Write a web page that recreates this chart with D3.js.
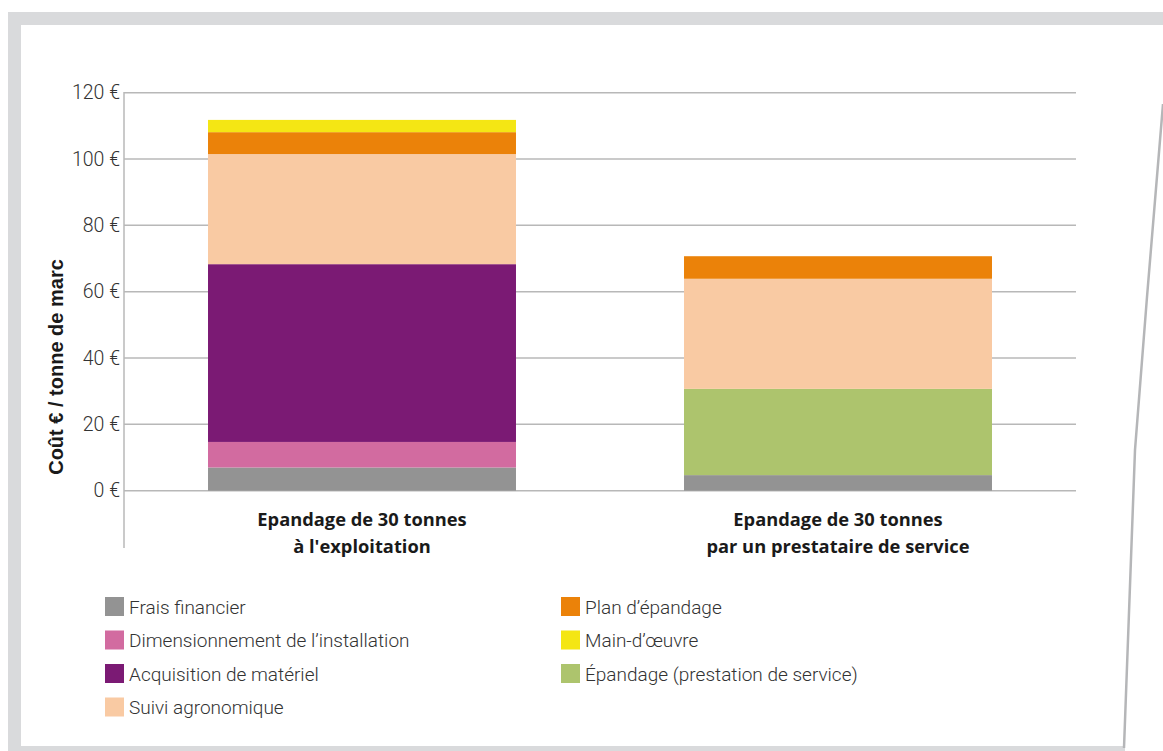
<!DOCTYPE html>
<html>
<head>
<meta charset="utf-8">
<script src="https://cdn.jsdelivr.net/npm/d3@7"></script>
<style>
  html, body { margin: 0; padding: 0; background: #fff; }
  svg { display: block; }
</style>
</head>
<body>
<svg id="chart" width="1163" height="751"></svg>
<script>
// Coût d'épandage par tonne de marc, selon le mode d'épandage
const categories = [
  ["Epandage de 30 tonnes", "à l'exploitation"],
  ["Epandage de 30 tonnes", "par un prestataire de service"]
];
const seriesNames = [
  "Frais financier",
  "Dimensionnement de l’installation",
  "Acquisition de matériel",
  "Suivi agronomique",
  "Plan d’épandage",
  "Main-d’œuvre",
  "Épandage (prestation de service)"
];
const seriesColors = ["#939393", "#d26ba0", "#7b1a74", "#f9caa3", "#eb8209", "#f4e614", "#adc46d"];
// Valeurs en € / tonne, dans l'ordre d'empilement (bas vers haut)
const exploitationValues = [7.0, 7.7, 53.6, 33.2, 6.6, 3.7, 0];
const prestataireValues  = [4.7, 0, 0, 33.2, 6.8, 0, 26.0];
const stackOrder = [0, 1, 2, 6, 3, 4, 5];
const yTicks = [0, 20, 40, 60, 80, 100, 120];
const yTitle = "Coût € / tonne de marc";

const svg = d3.select("#chart");

// Cadre de la page
const frame = svg.append("g");
frame.append("rect").attr("x", 8).attr("y", 12).attr("width", 1155).attr("height", 13).attr("fill", "#d9dadc");
frame.append("rect").attr("x", 8).attr("y", 12).attr("width", 13).attr("height", 739).attr("fill", "#d9dadc");
frame.append("rect").attr("x", 8).attr("y", 746).attr("width", 1117).attr("height", 5).attr("fill", "#d9dadc");
frame.append("path")
  .attr("d", "M1163,104 L1147,297 L1135,450 L1124,748")
  .attr("fill", "none").attr("stroke", "#b5b6b8").attr("stroke-width", 2.5);

const x = d3.scaleBand().domain([0, 1]).range([124, 1076]).paddingInner(0.353).paddingOuter(0.1765);
const y = d3.scaleLinear().domain([0, 120]).range([490.7, 92.7]);

// Grille horizontale
svg.append("g").selectAll("line").data(yTicks).join("line")
  .attr("x1", 124).attr("x2", 1076)
  .attr("y1", d => y(d)).attr("y2", d => y(d))
  .attr("stroke", "#b8b8b8").attr("stroke-width", 1.5);

// Axe vertical
const yAxis = d3.axisLeft(y).tickValues(yTicks).tickSize(0).tickPadding(4).tickFormat(d => d + " €");
const gy = svg.append("g").attr("transform", "translate(124,0)").call(yAxis);
gy.select(".domain").remove();
gy.selectAll("text")
  .attr("font-family", "Roboto, sans-serif").attr("font-weight", 300)
  .attr("font-size", 19.5).attr("fill", "#333");
svg.append("line").attr("x1", 124).attr("x2", 124).attr("y1", 92).attr("y2", 548)
  .attr("stroke", "#b8b8b8").attr("stroke-width", 1.5);

// Barres empilées
const rows = [exploitationValues, prestataireValues];
rows.forEach((vals, i) => {
  let acc = 0;
  const segs = [];
  stackOrder.forEach(s => {
    if (vals[s] > 0) { segs.push({ s, y0: acc, y1: acc + vals[s] }); acc += vals[s]; }
  });
  svg.append("g").selectAll("rect").data(segs).join("rect")
    .attr("x", x(i)).attr("width", x.bandwidth())
    .attr("y", d => y(d.y1)).attr("height", d => y(d.y0) - y(d.y1))
    .attr("fill", d => seriesColors[d.s]);
});

// Libellés des catégories
categories.forEach((lines, i) => {
  const t = svg.append("text")
    .attr("x", x(i) + x.bandwidth() / 2).attr("y", 526)
    .attr("text-anchor", "middle")
    .attr("font-family", "'Open Sans', sans-serif").attr("font-weight", 700)
    .attr("font-size", 18.3).attr("fill", "#1a1a1a");
  lines.forEach((l, k) => t.append("tspan").attr("x", x(i) + x.bandwidth() / 2).attr("dy", k ? 27 : 0).text(l));
});

// Titre de l'axe
svg.append("text")
  .attr("transform", "translate(63,367) rotate(-90)")
  .attr("text-anchor", "middle")
  .attr("font-family", "'Liberation Sans', Arial, sans-serif").attr("font-weight", 700)
  .attr("font-size", 20).attr("fill", "#1a1a1a")
  .text(yTitle);

// Légende
const legendItems = [
  { s: 0, col: 0, row: 0 }, { s: 1, col: 0, row: 1 }, { s: 2, col: 0, row: 2 }, { s: 3, col: 0, row: 3 },
  { s: 4, col: 1, row: 0 }, { s: 5, col: 1, row: 1 }, { s: 6, col: 1, row: 2 }
];
const lg = svg.append("g").selectAll("g").data(legendItems).join("g")
  .attr("transform", d => `translate(${d.col ? 561 : 105},${597 + d.row * 33.5})`);
lg.append("rect").attr("width", 19).attr("height", 19).attr("fill", d => seriesColors[d.s]);
lg.append("text").attr("x", 24).attr("y", 10).attr("dy", "0.35em")
  .attr("font-family", "Roboto, sans-serif").attr("font-weight", 300)
  .attr("font-size", 19).attr("fill", "#333")
  .text(d => seriesNames[d.s]);
</script>
</body>
</html>
